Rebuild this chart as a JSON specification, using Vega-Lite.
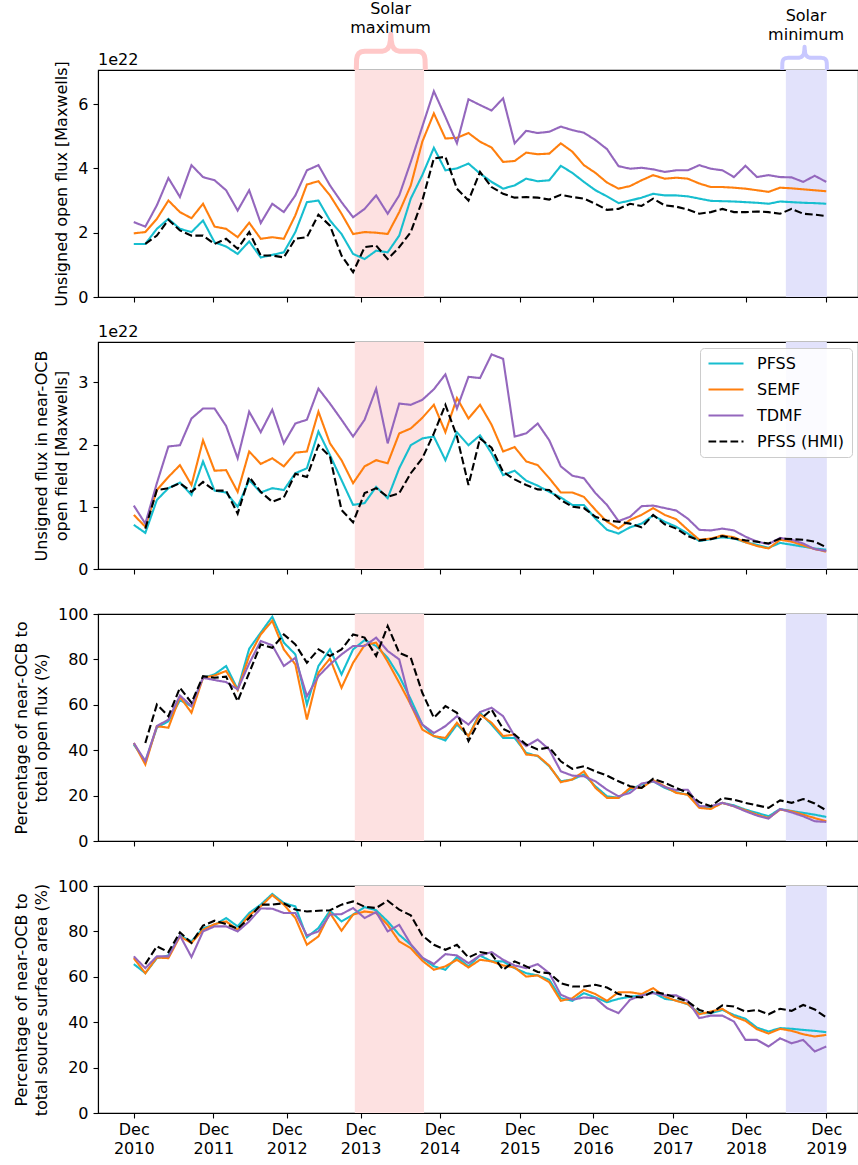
{
"$schema":"https://vega.github.io/schema/vega-lite/v6.json",
"padding":{"left":12,"right":0,"top":0,"bottom":2},
"spacing":45,
"bounds":"flush",
"resolve":{"scale":{"color":"independent","strokeDash":"independent","fill":"independent"},"legend":{"color":"independent","strokeDash":"independent"}},
"config":{"font":"DejaVu Sans","view":{"stroke":"#000","strokeWidth":1.1},
"axis":{"domainColor":"#000","domainWidth":1.1,"tickColor":"#000","tickWidth":1.1,"tickSize":5,"labelColor":"#000","labelFont":"DejaVu Sans","labelFontSize":16,"labelPadding":5,"titleFont":"DejaVu Sans","titleFontSize":16,"titleFontWeight":"normal","titleColor":"#000","titlePadding":8,"titleLineHeight":20,"grid":false,"labelFlush":false},
"text":{"font":"DejaVu Sans"}},
"datasets":{
"shade":[{"x":2142.3,"x2":2154.3,"f":"max"},{"x":2217.0,"x2":2224.1,"f":"min"}],
"ann":[{"x":2148.5,"y":8.79,"t":"Solar\nmaximum"},{"x":2220.5,"y":8.59,"t":"Solar\nminimum"}],
"brace":[
{"g":"max","o":1,"x":2142.56,"y":7.06},{"g":"max","o":2,"x":2142.61,"y":7.39},{"g":"max","o":3,"x":2142.74,"y":7.5},{"g":"max","o":4,"x":2143.0,"y":7.58},{"g":"max","o":5,"x":2143.43,"y":7.63},{"g":"max","o":6,"x":2144.03,"y":7.64},{"g":"max","o":7,"x":2146.98,"y":7.64},{"g":"max","o":8,"x":2147.59,"y":7.67},{"g":"max","o":9,"x":2148.02,"y":7.73},{"g":"max","o":10,"x":2148.32,"y":7.83},{"g":"max","o":11,"x":2148.47,"y":7.98},{"g":"max","o":12,"x":2148.54,"y":8.17},{"g":"max","o":13,"x":2148.61,"y":7.98},{"g":"max","o":14,"x":2148.77,"y":7.83},{"g":"max","o":15,"x":2149.06,"y":7.73},{"g":"max","o":16,"x":2149.49,"y":7.67},{"g":"max","o":17,"x":2150.1,"y":7.64},{"g":"max","o":18,"x":2153.05,"y":7.64},{"g":"max","o":19,"x":2153.65,"y":7.63},{"g":"max","o":20,"x":2154.09,"y":7.58},{"g":"max","o":21,"x":2154.35,"y":7.5},{"g":"max","o":22,"x":2154.47,"y":7.39},{"g":"max","o":23,"x":2154.52,"y":7.06},
{"g":"min","o":1,"x":2216.36,"y":7.06},{"g":"min","o":2,"x":2216.39,"y":7.275},{"g":"min","o":3,"x":2216.46,"y":7.347},{"g":"min","o":4,"x":2216.63,"y":7.397},{"g":"min","o":5,"x":2216.91,"y":7.428},{"g":"min","o":6,"x":2217.31,"y":7.4375},{"g":"min","o":7,"x":2219.23,"y":7.4375},{"g":"min","o":8,"x":2219.62,"y":7.459},{"g":"min","o":9,"x":2219.89,"y":7.5},{"g":"min","o":10,"x":2220.1,"y":7.559},{"g":"min","o":11,"x":2220.19,"y":7.6625},{"g":"min","o":12,"x":2220.24,"y":7.784},{"g":"min","o":13,"x":2220.29,"y":7.6625},{"g":"min","o":14,"x":2220.38,"y":7.559},{"g":"min","o":15,"x":2220.59,"y":7.5},{"g":"min","o":16,"x":2220.86,"y":7.459},{"g":"min","o":17,"x":2221.24,"y":7.4375},{"g":"min","o":18,"x":2223.17,"y":7.4375},{"g":"min","o":19,"x":2223.57,"y":7.428},{"g":"min","o":20,"x":2223.84,"y":7.397},{"g":"min","o":21,"x":2224.02,"y":7.347},{"g":"min","o":22,"x":2224.09,"y":7.275},{"g":"min","o":23,"x":2224.12,"y":7.06}
],
"p1":[
{"x":2104,"a":1.65,"b":1.98,"c":2.33,"d":null},
{"x":2106,"a":1.65,"b":2.02,"c":2.19,"d":1.65},
{"x":2108,"a":2.12,"b":2.43,"c":2.85,"d":1.91},
{"x":2110,"a":2.43,"b":3.0,"c":3.7,"d":2.4},
{"x":2112,"a":2.12,"b":2.64,"c":3.11,"d":2.07},
{"x":2114,"a":2.02,"b":2.45,"c":4.1,"d":1.91},
{"x":2116,"a":2.38,"b":2.9,"c":3.73,"d":1.91},
{"x":2118,"a":1.7,"b":2.19,"c":3.63,"d":1.65},
{"x":2120,"a":1.57,"b":2.12,"c":3.32,"d":1.81},
{"x":2122,"a":1.34,"b":1.86,"c":2.69,"d":1.5},
{"x":2124,"a":1.73,"b":2.31,"c":3.32,"d":2.02},
{"x":2126,"a":1.23,"b":1.81,"c":2.3,"d":1.29},
{"x":2128,"a":1.31,"b":1.86,"c":2.9,"d":1.29},
{"x":2130,"a":1.39,"b":1.81,"c":2.64,"d":1.23},
{"x":2132,"a":2.02,"b":2.54,"c":3.16,"d":1.81},
{"x":2134,"a":2.95,"b":3.5,"c":3.94,"d":1.86},
{"x":2136,"a":3.0,"b":3.6,"c":4.1,"d":2.56},
{"x":2138,"a":2.38,"b":3.16,"c":3.47,"d":2.22},
{"x":2140,"a":1.96,"b":2.59,"c":2.95,"d":1.29},
{"x":2142,"a":1.34,"b":1.96,"c":2.48,"d":0.77},
{"x":2144,"a":1.18,"b":2.02,"c":2.74,"d":1.55},
{"x":2146,"a":1.44,"b":2.0,"c":3.16,"d":1.6},
{"x":2148,"a":1.39,"b":1.96,"c":2.59,"d":1.18},
{"x":2150,"a":1.91,"b":2.64,"c":3.16,"d":1.55},
{"x":2152,"a":3.06,"b":3.47,"c":4.2,"d":2.02},
{"x":2154,"a":3.79,"b":4.83,"c":5.3,"d":3.0},
{"x":2156,"a":4.64,"b":5.71,"c":6.4,"d":4.31},
{"x":2158,"a":3.94,"b":4.93,"c":5.6,"d":4.36},
{"x":2160,"a":4.0,"b":4.95,"c":4.78,"d":3.37},
{"x":2162,"a":4.15,"b":5.1,"c":6.15,"d":3.0},
{"x":2164,"a":3.84,"b":4.83,"c":5.97,"d":3.89},
{"x":2166,"a":3.58,"b":4.65,"c":5.8,"d":3.42},
{"x":2168,"a":3.37,"b":4.2,"c":6.18,"d":3.21},
{"x":2170,"a":3.47,"b":4.23,"c":4.78,"d":3.09},
{"x":2172,"a":3.68,"b":4.49,"c":5.17,"d":3.11},
{"x":2174,"a":3.6,"b":4.44,"c":5.1,"d":3.09},
{"x":2176,"a":3.63,"b":4.46,"c":5.14,"d":3.03},
{"x":2178,"a":4.08,"b":4.78,"c":5.3,"d":3.18},
{"x":2180,"a":3.86,"b":4.52,"c":5.19,"d":3.11},
{"x":2182,"a":3.58,"b":4.1,"c":5.11,"d":3.06},
{"x":2184,"a":3.32,"b":3.86,"c":4.88,"d":2.9},
{"x":2186,"a":3.13,"b":3.56,"c":4.6,"d":2.71},
{"x":2188,"a":2.92,"b":3.37,"c":4.07,"d":2.74},
{"x":2190,"a":3.0,"b":3.45,"c":3.99,"d":2.9},
{"x":2192,"a":3.09,"b":3.63,"c":4.02,"d":2.83},
{"x":2194,"a":3.21,"b":3.79,"c":3.97,"d":3.06},
{"x":2196,"a":3.16,"b":3.68,"c":3.89,"d":2.85},
{"x":2198,"a":3.16,"b":3.71,"c":3.94,"d":2.81},
{"x":2200,"a":3.13,"b":3.68,"c":3.94,"d":2.72},
{"x":2202,"a":3.06,"b":3.53,"c":4.1,"d":2.59},
{"x":2204,"a":2.99,"b":3.42,"c":3.99,"d":2.64},
{"x":2206,"a":2.98,"b":3.42,"c":3.94,"d":2.74},
{"x":2208,"a":2.97,"b":3.4,"c":3.73,"d":2.64},
{"x":2210,"a":2.95,"b":3.37,"c":4.08,"d":2.64},
{"x":2212,"a":2.93,"b":3.32,"c":3.73,"d":2.66},
{"x":2214,"a":2.9,"b":3.27,"c":3.79,"d":2.64},
{"x":2216,"a":2.97,"b":3.4,"c":3.73,"d":2.59},
{"x":2218,"a":2.95,"b":3.38,"c":3.72,"d":2.74},
{"x":2220,"a":2.93,"b":3.35,"c":3.58,"d":2.59},
{"x":2222,"a":2.92,"b":3.32,"c":3.77,"d":2.56},
{"x":2224,"a":2.9,"b":3.29,"c":3.58,"d":2.52}
],
"p2":[
{"x":2104,"a":0.71,"b":0.87,"c":1.02,"d":null},
{"x":2106,"a":0.58,"b":0.68,"c":0.73,"d":0.65},
{"x":2108,"a":1.11,"b":1.27,"c":1.38,"d":1.27},
{"x":2110,"a":1.3,"b":1.48,"c":1.97,"d":1.3},
{"x":2112,"a":1.39,"b":1.67,"c":1.99,"d":1.38},
{"x":2114,"a":1.19,"b":1.35,"c":2.42,"d":1.24},
{"x":2116,"a":1.73,"b":2.07,"c":2.58,"d":1.4},
{"x":2118,"a":1.26,"b":1.58,"c":2.58,"d":1.26},
{"x":2120,"a":1.23,"b":1.59,"c":2.3,"d":1.26},
{"x":2122,"a":1.0,"b":1.24,"c":1.78,"d":0.89},
{"x":2124,"a":1.43,"b":1.89,"c":2.53,"d":1.48},
{"x":2126,"a":1.23,"b":1.69,"c":2.2,"d":1.24},
{"x":2128,"a":1.3,"b":1.78,"c":2.56,"d":1.08},
{"x":2130,"a":1.27,"b":1.65,"c":2.02,"d":1.15},
{"x":2132,"a":1.54,"b":1.87,"c":2.34,"d":1.53},
{"x":2134,"a":1.62,"b":1.89,"c":2.4,"d":1.48},
{"x":2136,"a":2.21,"b":2.53,"c":2.9,"d":1.99},
{"x":2138,"a":1.83,"b":2.02,"c":2.66,"d":1.81},
{"x":2140,"a":1.43,"b":1.75,"c":2.4,"d":0.95},
{"x":2142,"a":1.03,"b":1.38,"c":2.13,"d":0.75},
{"x":2144,"a":1.06,"b":1.65,"c":2.4,"d":1.22},
{"x":2146,"a":1.32,"b":1.75,"c":2.9,"d":1.3},
{"x":2148,"a":1.14,"b":1.7,"c":2.02,"d":1.16},
{"x":2150,"a":1.62,"b":2.18,"c":2.66,"d":1.22},
{"x":2152,"a":1.99,"b":2.26,"c":2.64,"d":1.54},
{"x":2154,"a":2.1,"b":2.43,"c":2.72,"d":1.78},
{"x":2156,"a":2.13,"b":2.64,"c":2.89,"d":2.18},
{"x":2158,"a":1.75,"b":2.2,"c":3.13,"d":2.64},
{"x":2160,"a":2.2,"b":2.75,"c":2.58,"d":2.13},
{"x":2162,"a":1.99,"b":2.42,"c":3.09,"d":1.35},
{"x":2164,"a":2.15,"b":2.64,"c":3.07,"d":2.1},
{"x":2166,"a":1.86,"b":2.32,"c":3.45,"d":1.95},
{"x":2168,"a":1.51,"b":1.89,"c":3.38,"d":1.56},
{"x":2170,"a":1.58,"b":1.96,"c":2.13,"d":1.44},
{"x":2172,"a":1.42,"b":1.73,"c":2.18,"d":1.35},
{"x":2174,"a":1.34,"b":1.67,"c":2.34,"d":1.28},
{"x":2176,"a":1.24,"b":1.46,"c":2.07,"d":1.27},
{"x":2178,"a":1.15,"b":1.23,"c":1.65,"d":1.11},
{"x":2180,"a":1.03,"b":1.23,"c":1.5,"d":1.0},
{"x":2182,"a":1.03,"b":1.16,"c":1.46,"d":0.98},
{"x":2184,"a":0.81,"b":0.95,"c":1.22,"d":0.84},
{"x":2186,"a":0.63,"b":0.76,"c":1.03,"d":0.78},
{"x":2188,"a":0.57,"b":0.65,"c":0.77,"d":0.76},
{"x":2190,"a":0.67,"b":0.79,"c":0.84,"d":0.73},
{"x":2192,"a":0.73,"b":0.87,"c":1.01,"d":0.67},
{"x":2194,"a":0.86,"b":0.98,"c":1.02,"d":0.87},
{"x":2196,"a":0.76,"b":0.87,"c":0.98,"d":0.72},
{"x":2198,"a":0.68,"b":0.8,"c":0.94,"d":0.65},
{"x":2200,"a":0.57,"b":0.63,"c":0.81,"d":0.53},
{"x":2202,"a":0.45,"b":0.47,"c":0.63,"d":0.46},
{"x":2204,"a":0.48,"b":0.49,"c":0.62,"d":0.48},
{"x":2206,"a":0.51,"b":0.54,"c":0.65,"d":0.53},
{"x":2208,"a":0.49,"b":0.51,"c":0.62,"d":0.49},
{"x":2210,"a":0.43,"b":0.43,"c":0.52,"d":0.46},
{"x":2212,"a":0.39,"b":0.37,"c":0.44,"d":0.44},
{"x":2214,"a":0.34,"b":0.33,"c":0.4,"d":0.41},
{"x":2216,"a":0.42,"b":0.47,"c":0.5,"d":0.49},
{"x":2218,"a":0.39,"b":0.44,"c":0.47,"d":0.48},
{"x":2220,"a":0.36,"b":0.38,"c":0.41,"d":0.47},
{"x":2222,"a":0.33,"b":0.32,"c":0.32,"d":0.44},
{"x":2224,"a":0.31,"b":0.28,"c":0.29,"d":0.35}
],
"p3":[
{"x":2104,"a":42.5,"b":43.2,"c":43.2,"d":null},
{"x":2106,"a":35.1,"b":33.7,"c":35.1,"d":43.2},
{"x":2108,"a":49.9,"b":50.6,"c":50.6,"d":60.1},
{"x":2110,"a":52.8,"b":49.9,"c":53.5,"d":55.0},
{"x":2112,"a":62.0,"b":63.5,"c":64.1,"d":67.5},
{"x":2114,"a":59.4,"b":56.5,"c":59.4,"d":60.9},
{"x":2116,"a":71.9,"b":71.9,"c":71.9,"d":72.6},
{"x":2118,"a":73.4,"b":72.9,"c":70.9,"d":71.9},
{"x":2120,"a":77.1,"b":74.9,"c":70.0,"d":72.4},
{"x":2122,"a":66.8,"b":66.5,"c":66.8,"d":61.6},
{"x":2124,"a":84.7,"b":81.5,"c":78.2,"d":74.1},
{"x":2126,"a":91.8,"b":91.0,"c":88.1,"d":86.6},
{"x":2128,"a":98.8,"b":97.0,"c":86.2,"d":85.1},
{"x":2130,"a":87.4,"b":84.4,"c":77.1,"d":91.0},
{"x":2132,"a":82.2,"b":77.8,"c":80.7,"d":86.6},
{"x":2134,"a":60.1,"b":53.5,"c":63.8,"d":78.5},
{"x":2136,"a":77.1,"b":74.1,"c":72.6,"d":84.4},
{"x":2138,"a":84.4,"b":80.4,"c":77.8,"d":81.5},
{"x":2140,"a":73.4,"b":67.5,"c":82.2,"d":84.4},
{"x":2142,"a":84.4,"b":78.5,"c":85.9,"d":91.0},
{"x":2144,"a":88.5,"b":86.3,"c":85.9,"d":89.6},
{"x":2146,"a":85.9,"b":87.4,"c":89.6,"d":81.5},
{"x":2148,"a":80.7,"b":79.0,"c":83.7,"d":94.7},
{"x":2150,"a":72.6,"b":69.7,"c":80.0,"d":82.9},
{"x":2152,"a":62.4,"b":60.1,"c":60.1,"d":80.7},
{"x":2154,"a":51.3,"b":49.1,"c":51.3,"d":65.3},
{"x":2156,"a":46.2,"b":46.2,"c":47.6,"d":54.3},
{"x":2158,"a":44.3,"b":45.4,"c":50.6,"d":59.4},
{"x":2160,"a":51.3,"b":52.1,"c":55.0,"d":56.5},
{"x":2162,"a":46.2,"b":46.2,"c":51.3,"d":44.0},
{"x":2164,"a":56.5,"b":55.7,"c":56.8,"d":53.5},
{"x":2166,"a":51.3,"b":52.1,"c":58.7,"d":57.9},
{"x":2168,"a":45.4,"b":46.2,"c":55.0,"d":49.4},
{"x":2170,"a":45.4,"b":46.9,"c":46.2,"d":46.9},
{"x":2172,"a":38.8,"b":38.1,"c":41.8,"d":42.5},
{"x":2174,"a":37.4,"b":37.6,"c":44.7,"d":40.3},
{"x":2176,"a":32.9,"b":33.2,"c":40.3,"d":41.2},
{"x":2178,"a":26.3,"b":25.9,"c":30.7,"d":35.1},
{"x":2180,"a":27.1,"b":27.1,"c":28.8,"d":31.8},
{"x":2182,"a":29.3,"b":30.7,"c":28.5,"d":32.9},
{"x":2184,"a":24.1,"b":23.4,"c":26.3,"d":30.7},
{"x":2186,"a":19.7,"b":19.0,"c":22.6,"d":28.8},
{"x":2188,"a":19.0,"b":19.0,"c":19.7,"d":26.3},
{"x":2190,"a":22.6,"b":23.4,"c":21.2,"d":24.1},
{"x":2192,"a":24.9,"b":23.4,"c":25.3,"d":23.4},
{"x":2194,"a":26.3,"b":26.8,"c":26.3,"d":27.4},
{"x":2196,"a":23.4,"b":24.1,"c":23.8,"d":25.6},
{"x":2198,"a":21.5,"b":21.2,"c":22.4,"d":23.4},
{"x":2200,"a":20.4,"b":20.4,"c":22.6,"d":21.2},
{"x":2202,"a":15.3,"b":14.6,"c":15.3,"d":17.1},
{"x":2204,"a":14.6,"b":14.1,"c":15.3,"d":15.3},
{"x":2206,"a":16.8,"b":16.8,"c":16.8,"d":19.0},
{"x":2208,"a":15.7,"b":15.3,"c":15.3,"d":18.2},
{"x":2210,"a":13.8,"b":13.5,"c":13.1,"d":16.8},
{"x":2212,"a":12.4,"b":11.6,"c":11.2,"d":15.7},
{"x":2214,"a":10.9,"b":10.1,"c":9.9,"d":14.6},
{"x":2216,"a":14.1,"b":13.8,"c":14.1,"d":17.9},
{"x":2218,"a":13.2,"b":13.1,"c":12.6,"d":16.8},
{"x":2220,"a":12.4,"b":11.6,"c":10.9,"d":18.5},
{"x":2222,"a":11.6,"b":10.1,"c":8.7,"d":16.5},
{"x":2224,"a":10.6,"b":8.7,"c":8.4,"d":13.5}
],
"p4":[
{"x":2104,"a":65.6,"b":68.2,"c":69.0,"d":null},
{"x":2106,"a":61.6,"b":61.6,"c":63.8,"d":65.6},
{"x":2108,"a":68.2,"b":68.5,"c":69.0,"d":73.4},
{"x":2110,"a":69.4,"b":68.2,"c":69.0,"d":70.9},
{"x":2112,"a":78.2,"b":77.8,"c":78.2,"d":79.6},
{"x":2114,"a":75.6,"b":74.9,"c":68.7,"d":74.9},
{"x":2116,"a":81.5,"b":80.7,"c":80.0,"d":82.6},
{"x":2118,"a":82.9,"b":83.2,"c":82.2,"d":84.7},
{"x":2120,"a":85.9,"b":84.4,"c":82.2,"d":83.2},
{"x":2122,"a":82.2,"b":80.7,"c":80.0,"d":81.2},
{"x":2124,"a":88.1,"b":87.1,"c":84.4,"d":85.9},
{"x":2126,"a":91.8,"b":91.0,"c":90.1,"d":91.8},
{"x":2128,"a":96.5,"b":96.0,"c":90.0,"d":91.8},
{"x":2130,"a":92.5,"b":91.8,"c":88.1,"d":92.4},
{"x":2132,"a":91.0,"b":85.9,"c":88.1,"d":89.6},
{"x":2134,"a":77.4,"b":74.1,"c":78.2,"d":88.8},
{"x":2136,"a":81.5,"b":77.8,"c":80.0,"d":89.1},
{"x":2138,"a":89.1,"b":88.1,"c":87.4,"d":89.3},
{"x":2140,"a":84.4,"b":80.3,"c":87.6,"d":91.8},
{"x":2142,"a":87.4,"b":87.4,"c":90.3,"d":93.2},
{"x":2144,"a":90.7,"b":88.8,"c":85.9,"d":90.9},
{"x":2146,"a":89.3,"b":88.1,"c":88.5,"d":90.3},
{"x":2148,"a":84.4,"b":82.9,"c":80.0,"d":93.5},
{"x":2150,"a":78.5,"b":75.6,"c":82.9,"d":89.6},
{"x":2152,"a":74.1,"b":72.6,"c":74.4,"d":87.1},
{"x":2154,"a":68.2,"b":67.1,"c":68.5,"d":78.2},
{"x":2156,"a":64.6,"b":63.1,"c":65.6,"d":74.1},
{"x":2158,"a":63.1,"b":64.6,"c":70.0,"d":71.9},
{"x":2160,"a":68.7,"b":67.5,"c":69.4,"d":74.1},
{"x":2162,"a":64.6,"b":64.1,"c":66.0,"d":68.5},
{"x":2164,"a":69.4,"b":67.5,"c":69.4,"d":70.9},
{"x":2166,"a":66.8,"b":66.8,"c":70.9,"d":70.0},
{"x":2168,"a":66.8,"b":65.0,"c":67.5,"d":63.1},
{"x":2170,"a":63.8,"b":64.1,"c":65.0,"d":66.8},
{"x":2172,"a":61.6,"b":60.1,"c":63.8,"d":64.6},
{"x":2174,"a":60.6,"b":60.6,"c":65.6,"d":62.1},
{"x":2176,"a":58.7,"b":57.6,"c":61.6,"d":61.6},
{"x":2178,"a":50.6,"b":49.4,"c":52.1,"d":57.2},
{"x":2180,"a":49.4,"b":50.6,"c":49.9,"d":55.7},
{"x":2182,"a":52.8,"b":54.3,"c":50.9,"d":55.7},
{"x":2184,"a":50.9,"b":52.4,"c":50.6,"d":56.5},
{"x":2186,"a":48.8,"b":49.4,"c":46.2,"d":55.3},
{"x":2188,"a":50.3,"b":53.2,"c":44.0,"d":52.4},
{"x":2190,"a":51.2,"b":53.2,"c":49.9,"d":51.3},
{"x":2192,"a":51.8,"b":52.4,"c":51.8,"d":50.9},
{"x":2194,"a":53.2,"b":55.0,"c":52.8,"d":53.5},
{"x":2196,"a":50.3,"b":51.3,"c":51.8,"d":52.4},
{"x":2198,"a":49.6,"b":49.4,"c":51.8,"d":50.9},
{"x":2200,"a":47.9,"b":48.1,"c":49.4,"d":49.1},
{"x":2202,"a":44.0,"b":43.5,"c":41.8,"d":45.4},
{"x":2204,"a":44.0,"b":44.7,"c":42.9,"d":44.0},
{"x":2206,"a":45.4,"b":45.9,"c":42.9,"d":47.4},
{"x":2208,"a":43.2,"b":42.5,"c":40.3,"d":46.9},
{"x":2210,"a":41.5,"b":40.6,"c":32.2,"d":44.7},
{"x":2212,"a":37.6,"b":36.9,"c":32.2,"d":45.4},
{"x":2214,"a":35.9,"b":35.0,"c":29.3,"d":43.5},
{"x":2216,"a":37.4,"b":37.1,"c":32.9,"d":45.9},
{"x":2218,"a":37.1,"b":36.2,"c":30.7,"d":45.0},
{"x":2220,"a":36.6,"b":34.7,"c":32.2,"d":47.6},
{"x":2222,"a":36.2,"b":33.7,"c":27.1,"d":45.6},
{"x":2224,"a":35.6,"b":34.4,"c":29.3,"d":42.1}
]
},
"vconcat":[
{"width":760,"height":227,
"layer":[
{"data":{"name":"shade"},"mark":{"type":"rect"},"encoding":{"x":{"field":"x","type":"quantitative","scale":{"domain":[2097.8,2229.5],"nice":false,"zero":false},"axis":{"values":[2104,2117.8,2130.5,2143.3,2157,2170.9,2183.6,2197.4,2210.1,2224],"labels":false,"title":null}},"x2":{"field":"x2"},"fill":{"field":"f","type":"nominal","scale":{"domain":["max","min"],"range":["#fde1e1","#e2e2fb"]},"legend":null}}},
{"data":{"name":"p1"},"transform":[{"fold":["a","b","c","d"],"as":["s","v"]},{"filter":"datum.v != null"}],"mark":{"type":"line","strokeWidth":2.1},"encoding":{"x":{"field":"x","type":"quantitative","scale":{"domain":[2097.8,2229.5],"nice":false,"zero":false},"axis":{"values":[2104,2117.8,2130.5,2143.3,2157,2170.9,2183.6,2197.4,2210.1,2224],"labels":false,"title":null}},"y":{"field":"v","type":"quantitative","scale":{"domain":[0,7.06],"nice":false},"axis":{"values":[0,2,4,6],"format":"d","title":"Unsigned open flux [Maxwells]"}},"color":{"field":"s","type":"nominal","scale":{"domain":["a","b","c","d"],"range":["#17becf","#ff7f0e","#9467bd","#000000"]},"legend":null},"strokeDash":{"field":"s","type":"nominal","scale":{"domain":["a","b","c","d"],"range":[[1,0],[1,0],[1,0],[7.7,3.3]]},"legend":null}}},
{"data":{"values":[{"x":2097.8,"y":7.06,"t":"1e22"}]},"mark":{"type":"text","align":"left","baseline":"alphabetic","dy":-5,"fontSize":16,"color":"#000"},"encoding":{"x":{"field":"x","type":"quantitative"},"y":{"field":"y","type":"quantitative","scale":{"domain":[0,7.06]}},"text":{"field":"t"}}},
{"data":{"name":"ann"},"mark":{"type":"text","lineBreak":"\n","baseline":"alphabetic","align":"center","fontSize":16,"lineHeight":19,"color":"#000"},"encoding":{"x":{"field":"x","type":"quantitative"},"y":{"field":"y","type":"quantitative","scale":{"domain":[0,7.06]}},"text":{"field":"t"}}},
{"data":{"name":"brace"},"transform":[{"filter":"datum.g == 'max'"}],"mark":{"type":"line","color":"#ffc8c8","strokeWidth":5,"strokeCap":"butt","strokeJoin":"round","clip":false},"encoding":{"x":{"field":"x","type":"quantitative"},"y":{"field":"y","type":"quantitative","scale":{"domain":[0,7.06]}},"order":{"field":"o","type":"quantitative"}}},
{"data":{"name":"brace"},"transform":[{"filter":"datum.g == 'min'"}],"mark":{"type":"line","color":"#c8c8ff","strokeWidth":4,"strokeCap":"butt","strokeJoin":"round","clip":false},"encoding":{"x":{"field":"x","type":"quantitative"},"y":{"field":"y","type":"quantitative","scale":{"domain":[0,7.06]}},"order":{"field":"o","type":"quantitative"}}}
]},
{"width":760,"height":227,
"layer":[
{"data":{"name":"shade"},"mark":{"type":"rect"},"encoding":{"x":{"field":"x","type":"quantitative","scale":{"domain":[2097.8,2229.5],"nice":false,"zero":false},"axis":{"values":[2104,2117.8,2130.5,2143.3,2157,2170.9,2183.6,2197.4,2210.1,2224],"labels":false,"title":null}},"x2":{"field":"x2"},"fill":{"field":"f","type":"nominal","scale":{"domain":["max","min"],"range":["#fde1e1","#e2e2fb"]},"legend":null}}},
{"data":{"name":"p2"},"transform":[{"fold":["a","b","c","d"],"as":["s","v"]},{"filter":"datum.v != null"}],"mark":{"type":"line","strokeWidth":2.1},"encoding":{"x":{"field":"x","type":"quantitative","scale":{"domain":[2097.8,2229.5],"nice":false,"zero":false},"axis":{"values":[2104,2117.8,2130.5,2143.3,2157,2170.9,2183.6,2197.4,2210.1,2224],"labels":false,"title":null}},"y":{"field":"v","type":"quantitative","scale":{"domain":[0,3.65],"nice":false},"axis":{"values":[0,1,2,3],"format":"d","title":["Unsigned flux in near-OCB","open field [Maxwells]"]}},
"color":{"field":"s","type":"nominal","scale":{"domain":["a","b","c","d"],"range":["#17becf","#ff7f0e","#9467bd","#000000"]},"legend":{"title":null,"orient":"top-right","offset":6,"fillColor":"rgba(255,255,255,0.85)","strokeColor":"#cccccc","cornerRadius":4,"padding":7,"labelFontSize":16,"labelFont":"DejaVu Sans","labelColor":"#000","symbolType":"M-1,0H4","symbolSize":196,"symbolStrokeWidth":2.1,"labelOffset":33,"rowPadding":9,"labelExpr":"datum.label=='a'?'PFSS':datum.label=='b'?'SEMF':datum.label=='c'?'TDMF':'PFSS (HMI)'"}},
"strokeDash":{"field":"s","type":"nominal","scale":{"domain":["a","b","c","d"],"range":[[1,0],[1,0],[1,0],[7.7,3.3]]},"legend":{"title":null,"orient":"top-right","offset":6,"fillColor":"rgba(255,255,255,0.85)","strokeColor":"#cccccc","cornerRadius":4,"padding":7,"labelFontSize":16,"labelFont":"DejaVu Sans","labelColor":"#000","symbolType":"M-1,0H4","symbolSize":196,"symbolStrokeWidth":2.1,"labelOffset":33,"rowPadding":9,"labelExpr":"datum.label=='a'?'PFSS':datum.label=='b'?'SEMF':datum.label=='c'?'TDMF':'PFSS (HMI)'"}}}},
{"data":{"values":[{"x":2097.8,"y":3.65,"t":"1e22"}]},"mark":{"type":"text","align":"left","baseline":"alphabetic","dy":-5,"fontSize":16,"color":"#000"},"encoding":{"x":{"field":"x","type":"quantitative"},"y":{"field":"y","type":"quantitative","scale":{"domain":[0,3.65]}},"text":{"field":"t"}}}
]},
{"width":760,"height":227,
"layer":[
{"data":{"name":"shade"},"mark":{"type":"rect"},"encoding":{"x":{"field":"x","type":"quantitative","scale":{"domain":[2097.8,2229.5],"nice":false,"zero":false},"axis":{"values":[2104,2117.8,2130.5,2143.3,2157,2170.9,2183.6,2197.4,2210.1,2224],"labels":false,"title":null}},"x2":{"field":"x2"},"fill":{"field":"f","type":"nominal","scale":{"domain":["max","min"],"range":["#fde1e1","#e2e2fb"]},"legend":null}}},
{"data":{"name":"p3"},"transform":[{"fold":["a","b","c","d"],"as":["s","v"]},{"filter":"datum.v != null"}],"mark":{"type":"line","strokeWidth":2.1},"encoding":{"x":{"field":"x","type":"quantitative","scale":{"domain":[2097.8,2229.5],"nice":false,"zero":false},"axis":{"values":[2104,2117.8,2130.5,2143.3,2157,2170.9,2183.6,2197.4,2210.1,2224],"labels":false,"title":null}},"y":{"field":"v","type":"quantitative","scale":{"domain":[0,100],"nice":false},"axis":{"values":[0,20,40,60,80,100],"format":"d","title":["Percentage of near-OCB to","total open flux (%)"]}},"color":{"field":"s","type":"nominal","scale":{"domain":["a","b","c","d"],"range":["#17becf","#ff7f0e","#9467bd","#000000"]},"legend":null},"strokeDash":{"field":"s","type":"nominal","scale":{"domain":["a","b","c","d"],"range":[[1,0],[1,0],[1,0],[7.7,3.3]]},"legend":null}}}
]},
{"width":760,"height":227,
"layer":[
{"data":{"name":"shade"},"mark":{"type":"rect"},"encoding":{"x":{"field":"x","type":"quantitative","scale":{"domain":[2097.8,2229.5],"nice":false,"zero":false},"axis":{"values":[2104,2117.8,2130.5,2143.3,2157,2170.9,2183.6,2197.4,2210.1,2224],"title":null,"labelExpr":"['Dec', '' + round(2010 + (datum.value - 2104)/13.36)]","labelLineHeight":19,"labelPadding":3}},"x2":{"field":"x2"},"fill":{"field":"f","type":"nominal","scale":{"domain":["max","min"],"range":["#fde1e1","#e2e2fb"]},"legend":null}}},
{"data":{"name":"p4"},"transform":[{"fold":["a","b","c","d"],"as":["s","v"]},{"filter":"datum.v != null"}],"mark":{"type":"line","strokeWidth":2.1},"encoding":{"x":{"field":"x","type":"quantitative","scale":{"domain":[2097.8,2229.5],"nice":false,"zero":false},"axis":{"values":[2104,2117.8,2130.5,2143.3,2157,2170.9,2183.6,2197.4,2210.1,2224],"title":null,"labelExpr":"['Dec', '' + round(2010 + (datum.value - 2104)/13.36)]","labelLineHeight":19,"labelPadding":3}},"y":{"field":"v","type":"quantitative","scale":{"domain":[0,100],"nice":false},"axis":{"values":[0,20,40,60,80,100],"format":"d","title":["Percentage of near-OCB to","total source surface area (%)"]}},"color":{"field":"s","type":"nominal","scale":{"domain":["a","b","c","d"],"range":["#17becf","#ff7f0e","#9467bd","#000000"]},"legend":null},"strokeDash":{"field":"s","type":"nominal","scale":{"domain":["a","b","c","d"],"range":[[1,0],[1,0],[1,0],[7.7,3.3]]},"legend":null}}}
]}
]
}
